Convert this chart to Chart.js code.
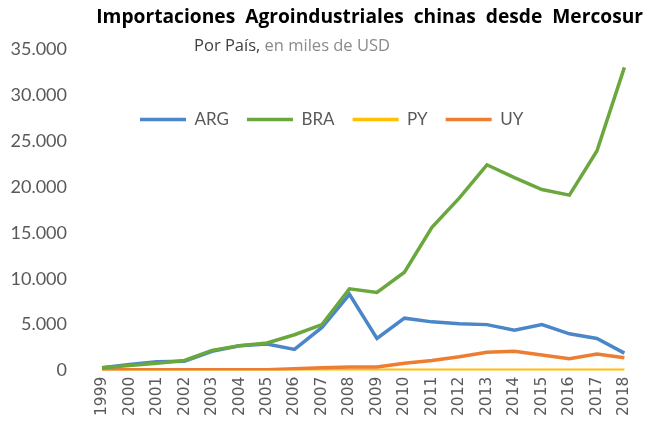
<!DOCTYPE html>
<html><head><meta charset="utf-8">
<script src="https://cdn.jsdelivr.net/npm/chart.js@4"></script>
<style>html,body{margin:0;padding:0;background:#fff}#wrap{width:649px;height:422px;position:relative}</style>
</head><body><div id="wrap"><canvas id="c"></canvas></div>
<script>
const years = ['1999','2000','2001','2002','2003','2004','2005','2006','2007','2008','2009','2010','2011','2012','2013','2014','2015','2016','2017','2018'];
const ARG = [300, 650, 950, 1000, 2100, 2700, 2900, 2300, 4700, 8300, 3500, 5700, 5300, 5100, 5000, 4400, 5000, 4000, 3500, 1900];
const BRA = [300, 550, 800, 1100, 2200, 2700, 3000, 3900, 5000, 8900, 8500, 10700, 15600, 18800, 22400, 21000, 19700, 19100, 23900, 33000];
const PY  = [0, 0, 0, 0, 10, 10, 10, 20, 20, 30, 30, 30, 30, 30, 30, 30, 30, 30, 30, 30];
const UY  = [100, 100, 100, 100, 100, 100, 100, 200, 300, 400, 400, 800, 1100, 1500, 2000, 2100, 1700, 1300, 1800, 1400];
const seriesNames = ['ARG', 'BRA', 'PY', 'UY'];
const yTickValues = [0, 5000, 10000, 15000, 20000, 25000, 30000, 35000];
const titleText = 'Importaciones  Agroindustriales  chinas  desde  Mercosur';
const subtitleA = 'Por País,';
const subtitleB = ' en miles de USD';

const fmt = v => String(v).replace(/\B(?=(\d{3})+(?!\d))/g, '.');

const subtitlePlugin = {
  id: 'subtitleDraw',
  afterDraw(chart) {
    const ctx = chart.ctx;
    ctx.save();
    ctx.font = '16.5px "Open Sans"';
    ctx.textBaseline = 'middle';
    const wA = ctx.measureText(subtitleA).width;
    const wB = ctx.measureText(subtitleB).width;
    const cx = 292, cy = 46;
    let x = cx - (wA + wB) / 2;
    ctx.fillStyle = '#404040';
    ctx.fillText(subtitleA, x, cy);
    ctx.fillStyle = '#8a8a8a';
    ctx.fillText(subtitleB, x + wA, cy);
    ctx.restore();
  }
};

const legendShift = {
  id: 'legendShift',
  beforeLayout(chart) {
    if (chart.legend) chart.legend.isHorizontal = () => true;
  },
  afterLayout(chart) {
    const lg = chart.legend, ca = chart.chartArea;
    if (!lg) return;
    const w = lg.width, h = lg.height;
    lg.left = ca.left + 20; lg.right = lg.left + w;
    lg.top = ca.top + 44; lg.bottom = lg.top + h;
  }
};

const mk = (label, data, color, order) => ({
  label, data, borderColor: color, backgroundColor: color,
  borderWidth: 3.5, pointRadius: 0, tension: 0, fill: false, order
});

new Chart(document.getElementById('c'), {
  type: 'line',
  data: {
    labels: years,
    datasets: [
      mk(seriesNames[0], ARG, '#4a86c8', 1),
      mk(seriesNames[1], BRA, '#6aa83e', 0),
      mk(seriesNames[2], PY, '#ffc000', 3),
      mk(seriesNames[3], UY, '#ed7d31', 2)
    ]
  },
  options: {
    responsive: true, maintainAspectRatio: false, animation: false, devicePixelRatio: 1,
    layout: { padding: { left: 0, right: 6, top: 0, bottom: 0 } },
    plugins: {
      tooltip: { enabled: false },
      title: {
        display: true, text: titleText, align: 'end', color: '#000',
        font: { family: 'Open Sans', size: 19.2, weight: 'bold' },
        padding: { top: 6, bottom: 20 }
      },
      legend: {
        position: 'chartArea', align: 'start',
        labels: {
          usePointStyle: true, pointStyle: 'line', pointStyleWidth: 46,
          color: '#595959', font: { family: 'Lato', size: 17 }, padding: 18,
          sort: (a, b) => a.datasetIndex - b.datasetIndex
        }
      }
    },
    scales: {
      x: {
        offset: false,
        grid: { display: false, drawTicks: false },
        border: { display: false },
        ticks: { minRotation: 90, maxRotation: 90, padding: 6, color: '#595959', font: { family: 'DejaVu Sans', size: 15.5 } }
      },
      y: {
        min: 0, max: 35000,
        afterBuildTicks: axis => { axis.ticks = yTickValues.map(v => ({ value: v })); },
        afterFit: axis => { axis.width = 102; },
        grid: { display: false, drawTicks: false },
        border: { display: false },
        ticks: { padding: 35, color: '#595959', font: { family: 'Lato', size: 18 }, callback: v => fmt(v) }
      }
    }
  },
  plugins: [subtitlePlugin, legendShift]
});
</script>
</body></html>
